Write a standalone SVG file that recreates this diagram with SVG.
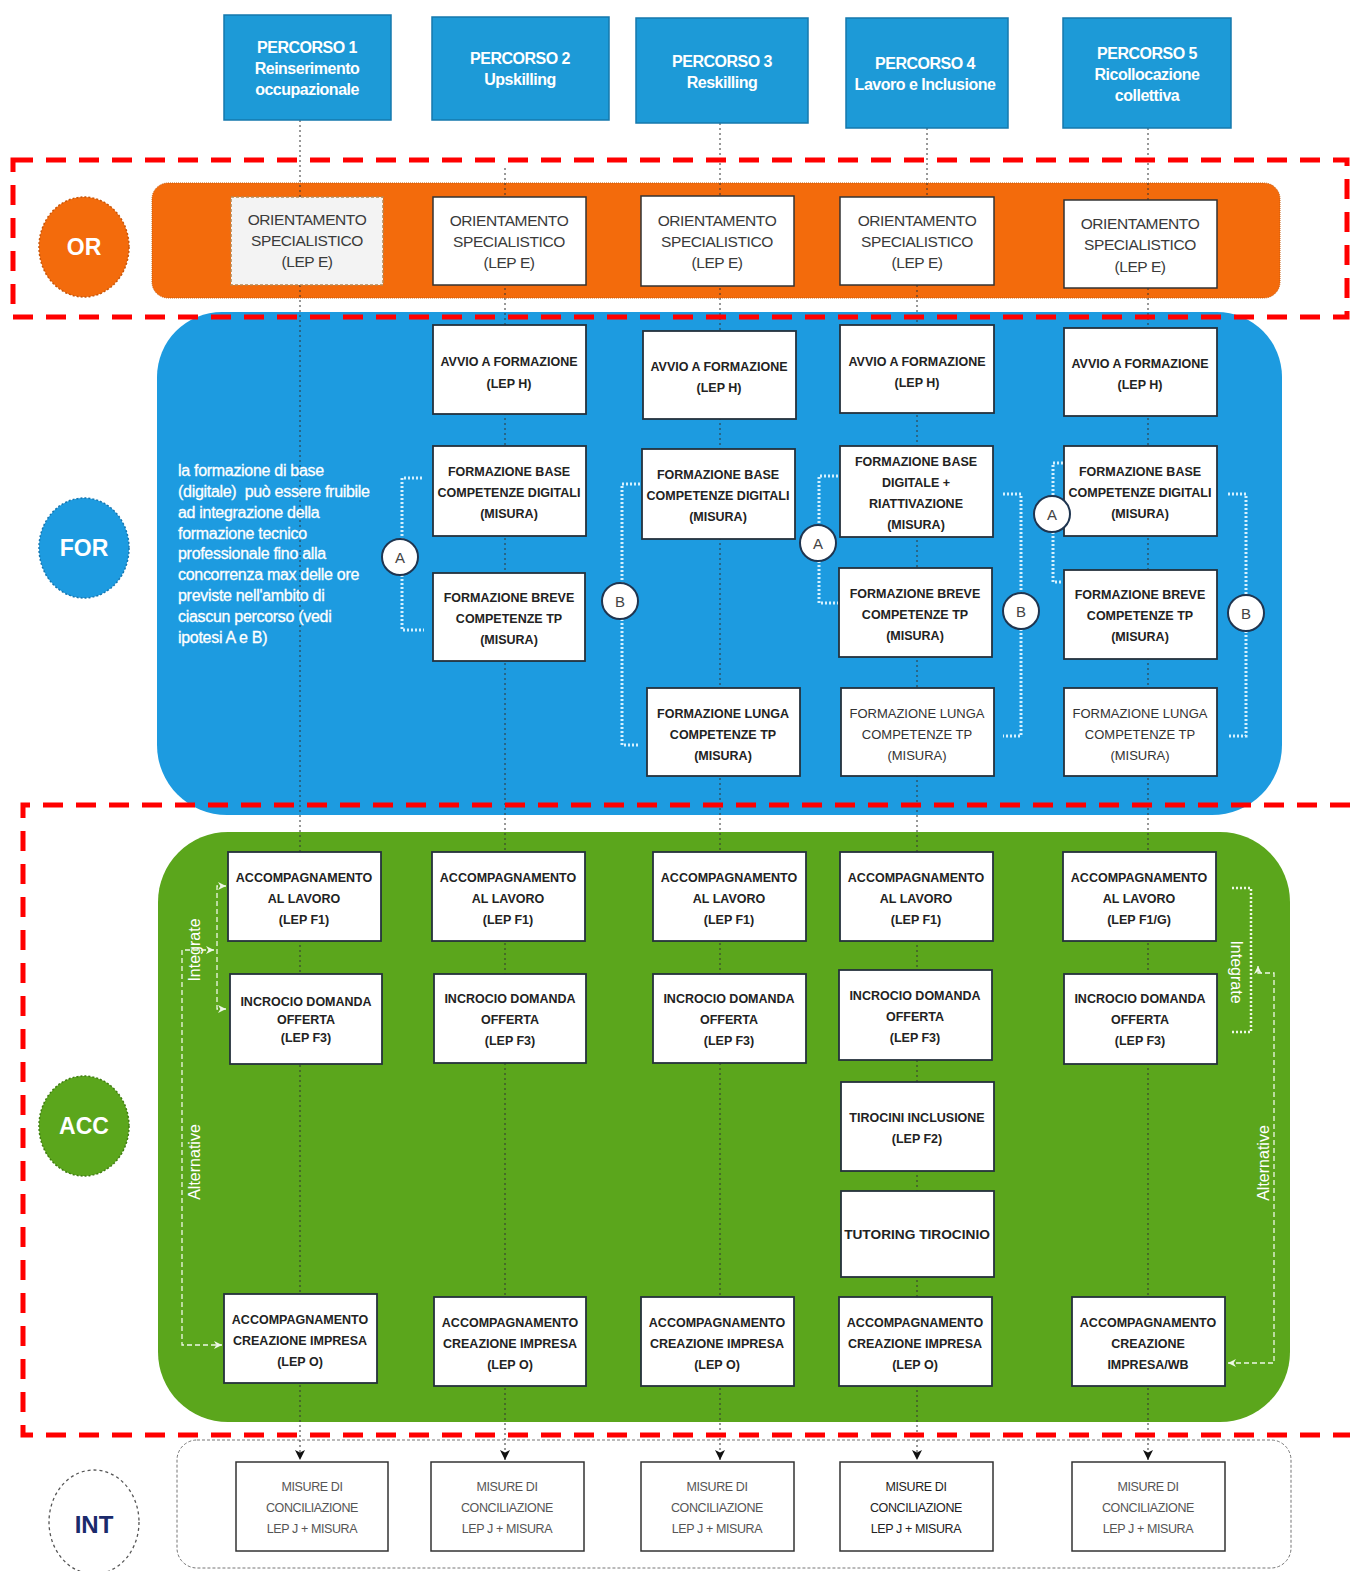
<svg xmlns="http://www.w3.org/2000/svg" width="1352" height="1571" viewBox="0 0 1352 1571">
<defs>
<style>
.hdr rect{fill:#1d9ad7;stroke:#1478ad;stroke-width:1.5}
.hdr text{fill:#fff;font-family:"Liberation Sans",Arial,sans-serif;font-weight:bold;font-size:16px;letter-spacing:-0.5px;text-anchor:middle}
.box rect{fill:#fff;stroke:#25313c;stroke-width:1.8}
.box text{fill:#222;font-family:"Liberation Sans",Arial,sans-serif;font-weight:bold;font-size:12.5px;text-anchor:middle}
.box text.lt{font-weight:normal;font-size:13px;fill:#333}
.orb rect{fill:#fff;stroke:#333;stroke-width:1.5}
.orb text{fill:#3a3a3a;font-family:"Liberation Sans",Arial,sans-serif;font-size:15.5px;letter-spacing:-0.4px;text-anchor:middle}
.intb rect{fill:#fff;stroke:#333;stroke-width:1.5}
.intb text{fill:#555;font-family:"Liberation Sans",Arial,sans-serif;font-size:12.5px;letter-spacing:-0.4px;text-anchor:middle}
.lbl text{fill:#fff;font-family:"Liberation Sans",Arial,sans-serif;font-weight:bold;font-size:23px;text-anchor:middle}
.ab circle{fill:#fff;stroke:#1f3550;stroke-width:2}
.ab text{fill:#444;font-family:"Liberation Sans",Arial,sans-serif;font-size:15px;text-anchor:middle}
.guide{fill:none;stroke:#333;stroke-width:1;stroke-dasharray:2 3}
.brk{fill:none;stroke:#d6f1ff;stroke-width:3;stroke-dasharray:2 2}
.wdash{fill:none;stroke:#eef8e6;stroke-width:1.3;stroke-dasharray:5 3}
.wdot{fill:none;stroke:#eef8e6;stroke-width:2.5;stroke-dasharray:2 2}
.red{fill:none;stroke:#ff0000;stroke-width:5;stroke-dasharray:20 13}
.side{fill:#fff;font-family:"Liberation Sans",Arial,sans-serif;font-size:16px;text-anchor:middle}
.note{fill:#fff;font-family:"Liberation Sans",Arial,sans-serif;font-size:16px;letter-spacing:-0.3px;white-space:pre;stroke:#fff;stroke-width:0.3}
</style>
<marker id="ad" viewBox="0 0 10 10" refX="10" refY="5" markerWidth="12" markerHeight="10" orient="auto" markerUnits="userSpaceOnUse"><path d="M0,0 L10,5 L0,10 L2.5,5 Z" fill="#111"/></marker>
<marker id="aw" viewBox="0 0 10 10" refX="10" refY="5" markerWidth="9" markerHeight="8" orient="auto-start-reverse" markerUnits="userSpaceOnUse"><path d="M0,0 L10,5 L0,10 L3,5 Z" fill="#eef8e6"/></marker>
</defs>
<rect width="1352" height="1571" fill="#fff"/>

<!-- regions -->
<g id="regions">
<rect x="152" y="183" width="1128" height="115" rx="16" fill="#f36b0c" stroke="#c95a0a" stroke-width="1" stroke-dasharray="1 1"/>
<path d="M222,312 H1217 A65,65 0 0 1 1282,377 V745 A70,70 0 0 1 1212,815 H227 A70,70 0 0 1 157,745 V377 A65,65 0 0 1 222,312 Z" fill="#1d9be0"/>
<path d="M158,1352 V902 A70,70 0 0 1 228,832 H1220 A70,70 0 0 1 1290,902 V1352 A70,70 0 0 1 1220,1422 H228 A70,70 0 0 1 158,1352 Z" fill="#5ba61c"/>
<rect x="177" y="1440" width="1114" height="128" rx="20" fill="#fff" stroke="#777" stroke-width="1" stroke-dasharray="3 2"/>
</g>

<!-- section labels -->
<g id="lbl-or" class="lbl"><ellipse cx="84" cy="247" rx="45" ry="50" fill="#f36b0c" stroke="#c85508" stroke-width="1.5" stroke-dasharray="2 2"/><text x="84" y="255">OR</text></g>
<g id="lbl-for" class="lbl"><ellipse cx="84" cy="548" rx="45" ry="50" fill="#1d9be0" stroke="#1576b0" stroke-width="1.5" stroke-dasharray="2 2"/><text x="84" y="556">FOR</text></g>
<g id="lbl-acc" class="lbl"><ellipse cx="84" cy="1126" rx="45" ry="50" fill="#5ba61c" stroke="#3f7d10" stroke-width="1.5" stroke-dasharray="2 2"/><text x="84" y="1134">ACC</text></g>
<g id="lbl-int" class="lbl"><ellipse cx="94" cy="1522" rx="45" ry="52" fill="#fff" stroke="#555" stroke-width="1.3" stroke-dasharray="3 3"/><text x="94" y="1533" style="fill:#1b2a6b;font-size:24px">INT</text></g>

<!-- guide lines and arrows into INT -->
<g id="connectors">
<path class="guide" d="M300,120 V1460" marker-end="url(#ad)"/>
<path class="guide" d="M505,168 V1460" marker-end="url(#ad)"/>
<path class="guide" d="M720,123 V1460" marker-end="url(#ad)"/>
<path class="guide" d="M927,128 V200 M917,285 V1460" marker-end="url(#ad)"/>
<path class="guide" d="M1148,128 V1460" marker-end="url(#ad)"/>

<!-- FOR brackets -->
<path class="brk" d="M422,478 H402 V539 M402,575 V630 H424"/>
<path class="brk" d="M640,484 H622 V583 M622,619 V745 H640"/>
<path class="brk" d="M838,476 H819 V525 M819,561 V603 H838"/>
<path class="brk" d="M1003,494 H1021 V593 M1021,629 V736 H1003"/>
<path class="brk" d="M1063,463 H1053 V496 M1053,532 V582 H1063"/>
<path class="brk" d="M1228,494 H1246 V595 M1246,631 V736 H1228"/>

<!-- ACC left -->
<path class="wdash" d="M226,886 H217 V1009 H226" marker-start="url(#aw)" marker-end="url(#aw)"/>
<path class="wdash" d="M214,950 H182 V1345 H222" marker-start="url(#aw)" marker-end="url(#aw)"/>
<!-- ACC right -->
<path class="wdot" d="M1232,888 H1251 V1032 H1232"/>
<path class="wdash" d="M1228,1363 H1274 V973 H1258 V966" marker-start="url(#aw)" marker-end="url(#aw)"/>
</g>

<!-- red dashed frames -->
<g id="frames">
<rect class="red" x="13" y="160" width="1334" height="157"/>
<path class="red" d="M1350,805 H23 V1435 H1350"/>
</g>

<!-- side texts -->
<text class="side" transform="translate(200,950) rotate(-90)">Integrate</text>
<text class="side" transform="translate(200,1162) rotate(-90)">Alternative</text>
<text class="side" transform="translate(1231,972) rotate(90)">Integrate</text>
<text class="side" transform="translate(1269,1163) rotate(-90)">Alternative</text>

<g id="note">
<text class="note" x="178" y="476">la formazione di base</text>
<text class="note" x="178" y="497">(digitale)  può essere fruibile</text>
<text class="note" x="178" y="518">ad integrazione della</text>
<text class="note" x="178" y="539">formazione tecnico</text>
<text class="note" x="178" y="559">professionale fino alla</text>
<text class="note" x="178" y="580">concorrenza max delle ore</text>
<text class="note" x="178" y="601">previste nell'ambito di</text>
<text class="note" x="178" y="622">ciascun percorso (vedi</text>
<text class="note" x="178" y="643">ipotesi A e B)</text>
</g>

<!-- headers -->
<g id="p1" class="hdr"><rect x="224" y="15" width="167" height="105"/><text x="307" y="53">PERCORSO 1</text><text x="307" y="74">Reinserimento</text><text x="307" y="95">occupazionale</text></g>
<g id="p2" class="hdr"><rect x="432" y="17" width="177" height="103"/><text x="520" y="64">PERCORSO 2</text><text x="520" y="85">Upskilling</text></g>
<g id="p3" class="hdr"><rect x="636" y="18" width="172" height="105"/><text x="722" y="67">PERCORSO 3</text><text x="722" y="88">Reskilling</text></g>
<g id="p4" class="hdr"><rect x="846" y="18" width="162" height="110"/><text x="925" y="69">PERCORSO 4</text><text x="925" y="90">Lavoro e Inclusione</text></g>
<g id="p5" class="hdr"><rect x="1063" y="18" width="168" height="110"/><text x="1147" y="59">PERCORSO 5</text><text x="1147" y="80">Ricollocazione</text><text x="1147" y="101">collettiva</text></g>

<!-- OR boxes -->
<g id="or1" class="orb"><rect x="231" y="197" width="152" height="88" style="fill:#f3f3f3;stroke:#b9864f;stroke-dasharray:3 2"/><text x="307" y="225">ORIENTAMENTO</text><text x="307" y="246">SPECIALISTICO</text><text x="307" y="267">(LEP E)</text></g>
<g id="or2" class="orb"><rect x="433" y="197" width="153" height="88"/><text x="509" y="226">ORIENTAMENTO</text><text x="509" y="247">SPECIALISTICO</text><text x="509" y="268">(LEP E)</text></g>
<g id="or3" class="orb"><rect x="641" y="196" width="153" height="90"/><text x="717" y="226">ORIENTAMENTO</text><text x="717" y="247">SPECIALISTICO</text><text x="717" y="268">(LEP E)</text></g>
<g id="or4" class="orb"><rect x="840" y="197" width="154" height="88"/><text x="917" y="226">ORIENTAMENTO</text><text x="917" y="247">SPECIALISTICO</text><text x="917" y="268">(LEP E)</text></g>
<g id="or5" class="orb"><rect x="1064" y="200" width="153" height="88"/><text x="1140" y="229">ORIENTAMENTO</text><text x="1140" y="250">SPECIALISTICO</text><text x="1140" y="272">(LEP E)</text></g>

<!-- FOR boxes -->
<g id="f2a" class="box"><rect x="433" y="325" width="153" height="89"/><text x="509" y="366">AVVIO A FORMAZIONE</text><text x="509" y="388">(LEP H)</text></g>
<g id="f2b" class="box"><rect x="433" y="446" width="153" height="90"/><text x="509" y="476">FORMAZIONE BASE</text><text x="509" y="497">COMPETENZE DIGITALI</text><text x="509" y="518">(MISURA)</text></g>
<g id="f2c" class="box"><rect x="433" y="573" width="152" height="88"/><text x="509" y="602">FORMAZIONE BREVE</text><text x="509" y="623">COMPETENZE TP</text><text x="509" y="644">(MISURA)</text></g>

<g id="f3a" class="box"><rect x="643" y="331" width="153" height="88"/><text x="719" y="371">AVVIO A FORMAZIONE</text><text x="719" y="392">(LEP H)</text></g>
<g id="f3b" class="box"><rect x="642" y="449" width="153" height="90"/><text x="718" y="479">FORMAZIONE BASE</text><text x="718" y="500">COMPETENZE DIGITALI</text><text x="718" y="521">(MISURA)</text></g>
<g id="f3d" class="box"><rect x="647" y="688" width="153" height="88"/><text x="723" y="718">FORMAZIONE LUNGA</text><text x="723" y="739">COMPETENZE TP</text><text x="723" y="760">(MISURA)</text></g>

<g id="f4a" class="box"><rect x="840" y="325" width="154" height="88"/><text x="917" y="366">AVVIO A FORMAZIONE</text><text x="917" y="387">(LEP H)</text></g>
<g id="f4b" class="box"><rect x="840" y="446" width="153" height="91"/><text x="916" y="466">FORMAZIONE BASE</text><text x="916" y="487">DIGITALE +</text><text x="916" y="508">RIATTIVAZIONE</text><text x="916" y="529">(MISURA)</text></g>
<g id="f4c" class="box"><rect x="839" y="568" width="153" height="89"/><text x="915" y="598">FORMAZIONE BREVE</text><text x="915" y="619">COMPETENZE TP</text><text x="915" y="640">(MISURA)</text></g>
<g id="f4d" class="box"><rect x="841" y="688" width="153" height="88"/><text class="lt" x="917" y="718">FORMAZIONE LUNGA</text><text class="lt" x="917" y="739">COMPETENZE TP</text><text class="lt" x="917" y="760">(MISURA)</text></g>

<g id="f5a" class="box"><rect x="1064" y="328" width="153" height="88"/><text x="1140" y="368">AVVIO A FORMAZIONE</text><text x="1140" y="389">(LEP H)</text></g>
<g id="f5b" class="box"><rect x="1064" y="446" width="153" height="90"/><text x="1140" y="476">FORMAZIONE BASE</text><text x="1140" y="497">COMPETENZE DIGITALI</text><text x="1140" y="518">(MISURA)</text></g>
<g id="f5c" class="box"><rect x="1064" y="570" width="153" height="89"/><text x="1140" y="599">FORMAZIONE BREVE</text><text x="1140" y="620">COMPETENZE TP</text><text x="1140" y="641">(MISURA)</text></g>
<g id="f5d" class="box"><rect x="1064" y="688" width="153" height="88"/><text class="lt" x="1140" y="718">FORMAZIONE LUNGA</text><text class="lt" x="1140" y="739">COMPETENZE TP</text><text class="lt" x="1140" y="760">(MISURA)</text></g>

<!-- A/B circles -->
<g id="a2" class="ab"><circle cx="400" cy="557" r="18"/><text x="400" y="563">A</text></g>
<g id="b3" class="ab"><circle cx="620" cy="601" r="18"/><text x="620" y="607">B</text></g>
<g id="a4" class="ab"><circle cx="818" cy="543" r="18"/><text x="818" y="549">A</text></g>
<g id="b4" class="ab"><circle cx="1021" cy="611" r="18"/><text x="1021" y="617">B</text></g>
<g id="a5" class="ab"><circle cx="1052" cy="514" r="18"/><text x="1052" y="520">A</text></g>
<g id="b5" class="ab"><circle cx="1246" cy="613" r="18"/><text x="1246" y="619">B</text></g>

<!-- ACC boxes -->
<g id="c1a" class="box"><rect x="228" y="852" width="153" height="89"/><text x="304" y="882">ACCOMPAGNAMENTO</text><text x="304" y="903">AL LAVORO</text><text x="304" y="924">(LEP F1)</text></g>
<g id="c1b" class="box"><rect x="230" y="974" width="152" height="90"/><text x="306" y="1006">INCROCIO DOMANDA</text><text x="306" y="1024">OFFERTA</text><text x="306" y="1042">(LEP F3)</text></g>
<g id="c1e" class="box"><rect x="224" y="1294" width="153" height="89"/><text x="300" y="1324">ACCOMPAGNAMENTO</text><text x="300" y="1345">CREAZIONE IMPRESA</text><text x="300" y="1366">(LEP O)</text></g>

<g id="c2a" class="box"><rect x="432" y="852" width="153" height="89"/><text x="508" y="882">ACCOMPAGNAMENTO</text><text x="508" y="903">AL LAVORO</text><text x="508" y="924">(LEP F1)</text></g>
<g id="c2b" class="box"><rect x="434" y="974" width="152" height="89"/><text x="510" y="1003">INCROCIO DOMANDA</text><text x="510" y="1024">OFFERTA</text><text x="510" y="1045">(LEP F3)</text></g>
<g id="c2e" class="box"><rect x="434" y="1297" width="152" height="89"/><text x="510" y="1327">ACCOMPAGNAMENTO</text><text x="510" y="1348">CREAZIONE IMPRESA</text><text x="510" y="1369">(LEP O)</text></g>

<g id="c3a" class="box"><rect x="653" y="852" width="153" height="89"/><text x="729" y="882">ACCOMPAGNAMENTO</text><text x="729" y="903">AL LAVORO</text><text x="729" y="924">(LEP F1)</text></g>
<g id="c3b" class="box"><rect x="653" y="974" width="153" height="89"/><text x="729" y="1003">INCROCIO DOMANDA</text><text x="729" y="1024">OFFERTA</text><text x="729" y="1045">(LEP F3)</text></g>
<g id="c3e" class="box"><rect x="641" y="1297" width="153" height="89"/><text x="717" y="1327">ACCOMPAGNAMENTO</text><text x="717" y="1348">CREAZIONE IMPRESA</text><text x="717" y="1369">(LEP O)</text></g>

<g id="c4a" class="box"><rect x="840" y="852" width="153" height="89"/><text x="916" y="882">ACCOMPAGNAMENTO</text><text x="916" y="903">AL LAVORO</text><text x="916" y="924">(LEP F1)</text></g>
<g id="c4b" class="box"><rect x="839" y="970" width="153" height="90"/><text x="915" y="1000">INCROCIO DOMANDA</text><text x="915" y="1021">OFFERTA</text><text x="915" y="1042">(LEP F3)</text></g>
<g id="c4c" class="box"><rect x="841" y="1082" width="153" height="89"/><text x="917" y="1122">TIROCINI INCLUSIONE</text><text x="917" y="1143">(LEP F2)</text></g>
<g id="c4d" class="box"><rect x="841" y="1191" width="153" height="86"/><text x="917" y="1239" style="font-size:13.7px">TUTORING TIROCINIO</text></g>
<g id="c4e" class="box"><rect x="839" y="1297" width="153" height="89"/><text x="915" y="1327">ACCOMPAGNAMENTO</text><text x="915" y="1348">CREAZIONE IMPRESA</text><text x="915" y="1369">(LEP O)</text></g>

<g id="c5a" class="box"><rect x="1063" y="852" width="153" height="89"/><text x="1139" y="882">ACCOMPAGNAMENTO</text><text x="1139" y="903">AL LAVORO</text><text x="1139" y="924">(LEP F1/G)</text></g>
<g id="c5b" class="box"><rect x="1064" y="974" width="153" height="90"/><text x="1140" y="1003">INCROCIO DOMANDA</text><text x="1140" y="1024">OFFERTA</text><text x="1140" y="1045">(LEP F3)</text></g>
<g id="c5e" class="box"><rect x="1072" y="1297" width="153" height="89"/><text x="1148" y="1327">ACCOMPAGNAMENTO</text><text x="1148" y="1348">CREAZIONE</text><text x="1148" y="1369">IMPRESA/WB</text></g>

<!-- INT boxes -->
<g id="i1" class="intb"><rect x="236" y="1462" width="152" height="89"/><text x="312" y="1491">MISURE DI</text><text x="312" y="1512">CONCILIAZIONE</text><text x="312" y="1533">LEP J + MISURA</text></g>
<g id="i2" class="intb"><rect x="431" y="1462" width="153" height="89"/><text x="507" y="1491">MISURE DI</text><text x="507" y="1512">CONCILIAZIONE</text><text x="507" y="1533">LEP J + MISURA</text></g>
<g id="i3" class="intb"><rect x="641" y="1462" width="153" height="89"/><text x="717" y="1491">MISURE DI</text><text x="717" y="1512">CONCILIAZIONE</text><text x="717" y="1533">LEP J + MISURA</text></g>
<g id="i4" class="intb"><rect x="840" y="1462" width="153" height="89"/><text x="916" y="1491" style="fill:#222">MISURE DI</text><text x="916" y="1512" style="fill:#222">CONCILIAZIONE</text><text x="916" y="1533" style="fill:#222">LEP J + MISURA</text></g>
<g id="i5" class="intb"><rect x="1072" y="1462" width="153" height="89"/><text x="1148" y="1491">MISURE DI</text><text x="1148" y="1512">CONCILIAZIONE</text><text x="1148" y="1533">LEP J + MISURA</text></g>
</svg>
